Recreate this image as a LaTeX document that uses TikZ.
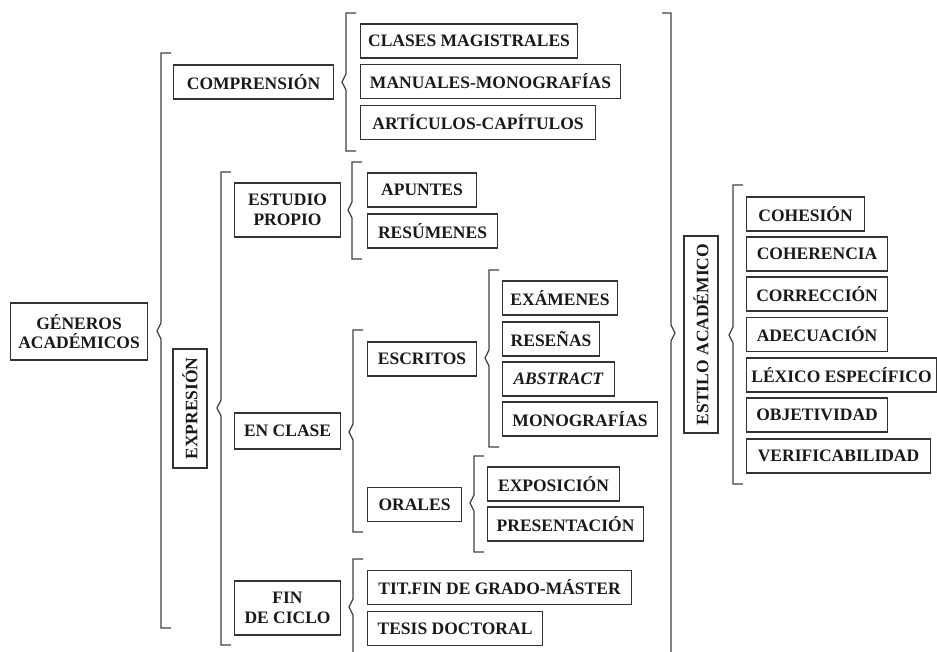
\documentclass[tikz,border=0pt]{standalone}
\usepackage{fontspec}
\setmainfont{Liberation Serif}

\begin{document}
\begin{tikzpicture}
  [x=1pt, y=-1pt,
   every node/.style={draw=black!80, line width=1.1pt, inner xsep=3pt, minimum height=34,
     font=\fontsize{17.5}{19.5}\selectfont\bfseries, text=black!90, align=center},
   caja/.style={anchor=west},
   vertical/.style={rotate=90},
   llave/.style={draw=black!75, line width=1.2pt}]
  \useasboundingbox (0,0) rectangle (937,652);
  \node[caja, minimum width=137, minimum height=57] (generos) at (10,331.5) {GÉNEROS\\ACADÉMICOS};
  \node[caja, minimum width=160] (comprension) at (173,82) {COMPRENSIÓN};
  \node[caja, minimum width=217] (clases) at (360,41) {CLASES MAGISTRALES};
  \node[caja, minimum width=260] (manuales) at (360,81.5) {MANUALES-MONOGRAFÍAS};
  \node[caja, minimum width=235] (articulos) at (360,122.5) {ARTÍCULOS-CAPÍTULOS};
  \node[vertical, minimum width=119] (expresion) at (190,408.5) {EXPRESIÓN};
  \node[caja, minimum width=106, minimum height=54] (estudio) at (234,210) {ESTUDIO\\PROPIO};
  \node[caja, minimum width=109] (apuntes) at (367,190) {APUNTES};
  \node[caja, minimum width=130] (resumenes) at (367,231) {RESÚMENES};
  \node[caja, minimum width=106, minimum height=36] (enclase) at (234,431) {EN CLASE};
  \node[caja, minimum width=109] (escritos) at (367,359) {ESCRITOS};
  \node[caja, minimum width=115] (examenes) at (502,298) {EXÁMENES};
  \node[caja, minimum width=97] (resenas) at (502,339) {RESEÑAS};
  \node[caja, minimum width=112] (abstract) at (502,379) {\textit{ABSTRACT}};
  \node[caja, minimum width=155] (monografias) at (502,419) {MONOGRAFÍAS};
  \node[caja, minimum width=94] (orales) at (367,504.5) {ORALES};
  \node[caja, minimum width=132] (exposicion) at (487,484) {EXPOSICIÓN};
  \node[caja, minimum width=156] (presentacion) at (487,524) {PRESENTACIÓN};
  \node[caja, minimum width=106, minimum height=54] (fin) at (234,608) {FIN\\DE CICLO};
  \node[caja, minimum width=264] (tit) at (367,587.5) {TIT.FIN DE GRADO-MÁSTER};
  \node[caja, minimum width=175] (tesis) at (367,628.5) {TESIS DOCTORAL};
  \node[vertical, minimum width=197] (estilo) at (701,334.5) {ESTILO ACADÉMICO};
  \node[caja, minimum width=118] (cohesion) at (746,214) {COHESIÓN};
  \node[caja, minimum width=141] (coherencia) at (746,254) {COHERENCIA};
  \node[caja, minimum width=141] (correccion) at (746,294) {CORRECCIÓN};
  \node[caja, minimum width=141] (adecuacion) at (746,334.5) {ADECUACIÓN};
  \node[caja, minimum width=190] (lexico) at (746,375) {LÉXICO ESPECÍFICO};
  \node[caja, minimum width=141] (objetividad) at (746,415) {OBJETIVIDAD};
  \node[caja, minimum width=184] (verificabilidad) at (746,456) {VERIFICABILIDAD};
  \foreach \x/\t/\b/\m in {161/53/628/331, 346/13/151/82, 221/172/645/408, 352/162/259/210,
      353/330/532/432, 489/270/447/358, 474/456/552/503, 353/559/670/607, 733/185/484/335}
    \draw[llave] (\x+10,\t) -- (\x,\t) -- (\x,\m-8) -- (\x-4,\m) -- (\x,\m+8) -- (\x,\b) -- (\x+10,\b);
  \draw[llave] (662,13) -- (671,13) -- (671,325) -- (675,333) -- (671,341) -- (671,670);
\end{tikzpicture}
\end{document}
